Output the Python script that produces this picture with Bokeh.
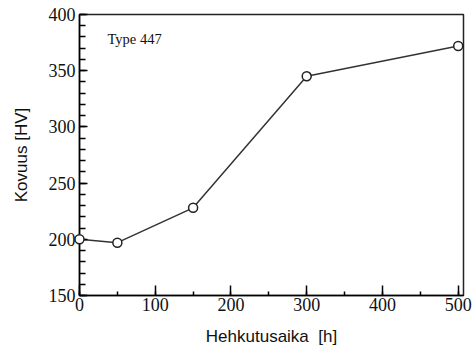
from bokeh.plotting import figure
from bokeh.models import Range1d, Label, FixedTicker
from bokeh.embed import file_html
from bokeh.resources import INLINE

# annealing time [h] and Vickers hardness [HV]
hours = [0, 50, 150, 300, 500]
hardness = [200, 197, 228, 345, 372]
x_ticks = [0, 100, 200, 300, 400, 500]
y_ticks = [150, 200, 250, 300, 350, 400]

p = figure(width=473, height=361, output_backend="svg", toolbar_location=None,
           x_range=Range1d(0, 507), y_range=Range1d(150, 400),
           min_border_left=79, min_border_right=10, min_border_top=14,
           min_border_bottom=66)
p.grid.visible = False
p.outline_line_color = "#222222"
p.outline_line_width = 1.5
p.background_fill_color = "white"
p.border_fill_color = "white"

p.line(hours, hardness, line_color="#333333", line_width=1.5)
pts = p.scatter(hours, hardness, size=9, fill_color="white", line_color="#222222",
                line_width=1.5)
pts.level = "overlay"

serif = "Liberation Serif"
sans = "Liberation Sans"

xa = p.xaxis[0]
xa.ticker = FixedTicker(ticks=x_ticks, minor_ticks=list(range(0, 501, 50)))
xa.major_tick_in = 10
xa.major_tick_out = 0
xa.minor_tick_in = 4
xa.minor_tick_out = 0
xa.axis_line_width = 1.5
xa.major_tick_line_width = 1.5
xa.minor_tick_line_width = 1.5
xa.major_label_text_font = serif
xa.major_label_text_font_size = "18px"
xa.major_label_text_color = "#111111"
xa.major_label_standoff = 2
xa.axis_label = "Hehkutusaika\u00a0\u00a0[h]"
xa.axis_label_text_font = sans
xa.axis_label_text_font_style = "normal"
xa.axis_label_text_font_size = "17px"
xa.axis_label_text_color = "#111111"
xa.axis_label_standoff = 13

ya = p.yaxis[0]
ya.ticker = FixedTicker(ticks=y_ticks, minor_ticks=list(range(150, 401, 10)))
ya.major_tick_in = 8
ya.major_tick_out = 0
ya.minor_tick_in = 6
ya.minor_tick_out = 0
ya.axis_line_width = 1.5
ya.major_tick_line_width = 1.5
ya.minor_tick_line_width = 1.5
ya.major_label_text_font = serif
ya.major_label_text_font_size = "18px"
ya.major_label_text_color = "#111111"
ya.major_label_standoff = 4
ya.axis_label = "Kovuus [HV]"
ya.axis_label_text_font = sans
ya.axis_label_text_font_style = "normal"
ya.axis_label_text_font_size = "17px"
ya.axis_label_text_color = "#111111"
ya.axis_label_standoff = 15

p.add_layout(Label(x=37, y=378, text="Type 447", text_font=serif,
                   text_font_size="14.5px", text_baseline="middle",
                   text_color="#111111"))

open("out.html", "w").write(file_html(p, INLINE))
